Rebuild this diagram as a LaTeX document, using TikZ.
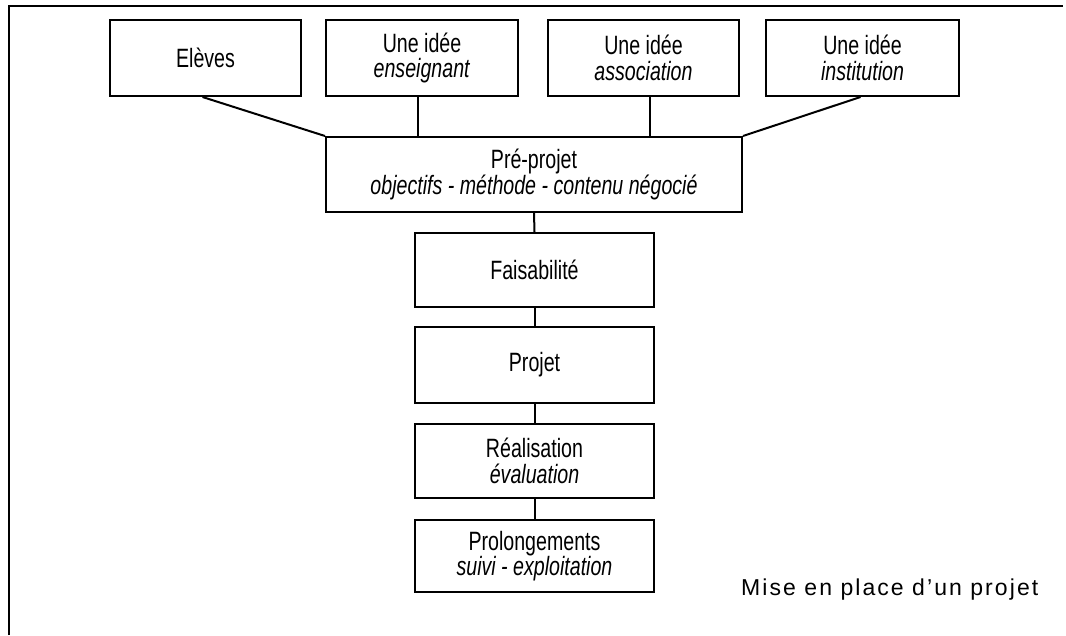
\documentclass[tikz,border=0pt]{standalone}
\usepackage{fontspec}
\setmainfont{Liberation Sans}
\newfontfamily\boxfont{Liberation Sans}[FakeStretch=0.74]
\newfontfamily\captfont{Liberation Sans}[LetterSpace=9]
\begin{document}
\begin{tikzpicture}[x=1pt,y=-1pt,
  stage/.style={draw, line width=2pt, rectangle, inner sep=0pt, align=center,
    font=\boxfont\fontsize{26.5}{25.5}\selectfont},
  link/.style={line width=2pt}]
\useasboundingbox (0,0) rectangle (1066,635);
% frame
\draw[line width=2pt] (9,635) -- (9,6) -- (1063,6);
% top boxes
\node[stage, minimum width=191pt, minimum height=76pt] (eleves) at (205.5,58) {Elèves};
\node[stage, minimum width=192pt, minimum height=76pt] (ens) at (422,58) {Une idée\\\textit{enseignant}};
\node[stage, minimum width=191pt, minimum height=76pt] (asso) at (643.5,58) {Une idée\\\textit{association}};
\node[stage, minimum width=193pt, minimum height=76pt] (inst) at (862.5,58) {Une idée\\\textit{institution}};
% pre-projet
\node[stage, minimum width=416pt, minimum height=75pt] (pre) at (534,174.5) {Pré-projet\\\textit{objectifs - méthode - contenu négocié}};
% chain
\node[stage, minimum width=239pt, minimum height=74pt] (fais) at (534.5,270) {Faisabilité};
\node[stage, minimum width=239pt, minimum height=76pt] (proj) at (534.5,365) {Projet};
\node[stage, minimum width=239pt, minimum height=74pt] (real) at (534.5,461) {Réalisation\\\textit{évaluation}};
\node[stage, minimum width=239pt, minimum height=72pt] (prol) at (534.5,556) {Prolongements\\\textit{suivi - exploitation}};
% connectors
\draw[link] ([xshift=-3pt]eleves.south) -- (pre.north west);
\draw[link] ([xshift=-4pt]ens.south) -- ([xshift=-4pt]ens.south |- pre.north);
\draw[link] ([xshift=6pt]asso.south) -- ([xshift=6pt]asso.south |- pre.north);
\draw[link] ([xshift=-2pt]inst.south) -- (pre.north east);
\draw[link] (pre.south) -- (fais.north);
\draw[link] (fais.south) -- (proj.north);
\draw[link] (proj.south) -- (real.north);
\draw[link] (real.south) -- (prol.north);
% caption
\node[anchor=base west, inner sep=0pt, font=\captfont\fontsize{23}{27}\selectfont] (cap) at (741,595) {Mise en place d’un projet};
\end{tikzpicture}
\end{document}
